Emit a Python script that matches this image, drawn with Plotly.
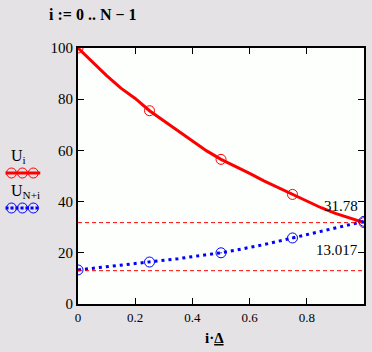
import plotly.graph_objects as go

# ---- data ----
x_red = [0, 0.05, 0.1, 0.15, 0.2, 0.25, 0.3, 0.35, 0.4, 0.45, 0.5, 0.55, 0.6, 0.65, 0.7, 0.75, 0.8, 0.85, 0.9, 0.95, 1.0]
u_red = [100, 94.5, 89.2, 84.3, 80.3, 75.5, 71.6, 67.8, 63.6, 59.8, 56.5, 53.9, 51.0, 48.1, 45.4, 42.8, 40.1, 37.6, 35.4, 33.5, 31.78]
x_blue = [0, 0.05, 0.1, 0.15, 0.2, 0.25, 0.3, 0.35, 0.4, 0.45, 0.5, 0.55, 0.6, 0.65, 0.7, 0.75, 0.8, 0.85, 0.9, 0.95, 1.0]
u_blue = [13.3, 13.9, 14.5, 15.1, 15.7, 16.4, 17.0, 17.7, 18.5, 19.2, 20.0, 21.0, 22.0, 23.2, 24.5, 25.8, 27.0, 28.2, 29.5, 30.9, 32.3]
x_mark = [0, 0.25, 0.5, 0.75, 1.0]
u_red_mark = [100, 75.5, 56.5, 42.8, 31.78]
u_blue_mark = [13.3, 16.4, 20.0, 25.8, 32.3]
marker_levels = [31.78, 13.017]
marker_labels = ["31.78", "13.017"]
x_ticks = [0, 0.2, 0.4, 0.6, 0.8]
x_ticktext = ["0", "0.2", "0.4", "0.6", "0.8"]
y_ticks = [0, 20, 40, 60, 80, 100]

RED = "#FF0000"
BLUE = "#0000FF"
FONT = "Liberation Serif"

fig = go.Figure()
fig.add_trace(go.Scatter(x=x_red, y=u_red, mode="lines", line=dict(color=RED, width=3), hoverinfo="skip"))
fig.add_trace(go.Scatter(x=x_mark, y=u_red_mark, mode="markers",
                         marker=dict(symbol="circle-open", size=10, color=RED, line=dict(width=1, color=RED))))
fig.add_trace(go.Scatter(x=x_blue, y=u_blue, mode="lines", line=dict(color=BLUE, width=3, dash="3px,4px")))
fig.add_trace(go.Scatter(x=x_mark, y=u_blue_mark, mode="markers",
                         marker=dict(symbol="circle-open-dot", size=10, color=BLUE, line=dict(width=1, color=BLUE))))

for lv, lab, ys in zip(marker_levels, marker_labels, [17, 21]):
    fig.add_shape(type="line", xref="x", yref="y", x0=0, x1=1, y0=lv, y1=lv,
                  line=dict(color=RED, width=1, dash="4px,3px"))
    fig.add_annotation(x=0.985, y=lv, xref="x", yref="y", text=lab, showarrow=False,
                       xanchor="right", yanchor="middle", yshift=ys,
                       font=dict(family=FONT, size=15, color="black"))

# ---- legend drawn at the left (paper coords) ----
def px(xp):
    return (xp - 78) / 288.0

def py(yp):
    return (304 - yp) / 256.0

for ycen, col, dash, label, ylab in [(173, RED, "solid", "U<sub>i</sub>", 156),
                                     (208, BLUE, "3px,2px", "U<sub>N+i</sub>", 191)]:
    fig.add_shape(type="line", xref="paper", yref="paper", x0=px(5), x1=px(40), y0=py(ycen), y1=py(ycen),
                  line=dict(color=col, width=3, dash=dash))
    for cx in [11, 22, 33]:
        fig.add_shape(type="circle", xref="paper", yref="paper",
                      x0=px(cx - 5), x1=px(cx + 5), y0=py(ycen + 5), y1=py(ycen - 5),
                      line=dict(color=col, width=1))
    fig.add_annotation(x=px(9), y=py(ylab), xref="paper", yref="paper", text=label, showarrow=False,
                       xanchor="left", yanchor="middle", font=dict(family=FONT, size=16, color="black"))

fig.add_annotation(x=px(47), y=py(14), xref="paper", yref="paper", text="<b>i := 0 .. N − 1</b>",
                   showarrow=False, xanchor="left", yanchor="middle",
                   font=dict(family=FONT, size=16, color="black"))
fig.add_annotation(x=px(215), y=py(338), xref="paper", yref="paper", text="<b>i·<u>Δ</u></b>",
                   showarrow=False, xanchor="center", yanchor="middle",
                   font=dict(family=FONT, size=15, color="black"))

fig.update_layout(
    width=372, height=352,
    margin=dict(l=78, r=6, t=48, b=48),
    paper_bgcolor="#E4E2E4", plot_bgcolor="#FCFFFC",
    showlegend=False,
    font=dict(family=FONT, size=14, color="black"),
)
fig.update_xaxes(range=[0, 1], tickvals=x_ticks, ticktext=x_ticktext, ticks="inside", ticklen=6,
                 tickcolor="black", showline=True, linecolor="black", linewidth=2, mirror="ticks",
                 showgrid=False, zeroline=False, tickfont=dict(family=FONT, size=13))
fig.update_yaxes(range=[0, 100], tickvals=y_ticks, ticks="inside", ticklen=6,
                 tickcolor="black", showline=True, linecolor="black", linewidth=2, mirror="ticks",
                 showgrid=False, zeroline=False, tickfont=dict(family=FONT, size=15))

fig.write_html("out.html")
